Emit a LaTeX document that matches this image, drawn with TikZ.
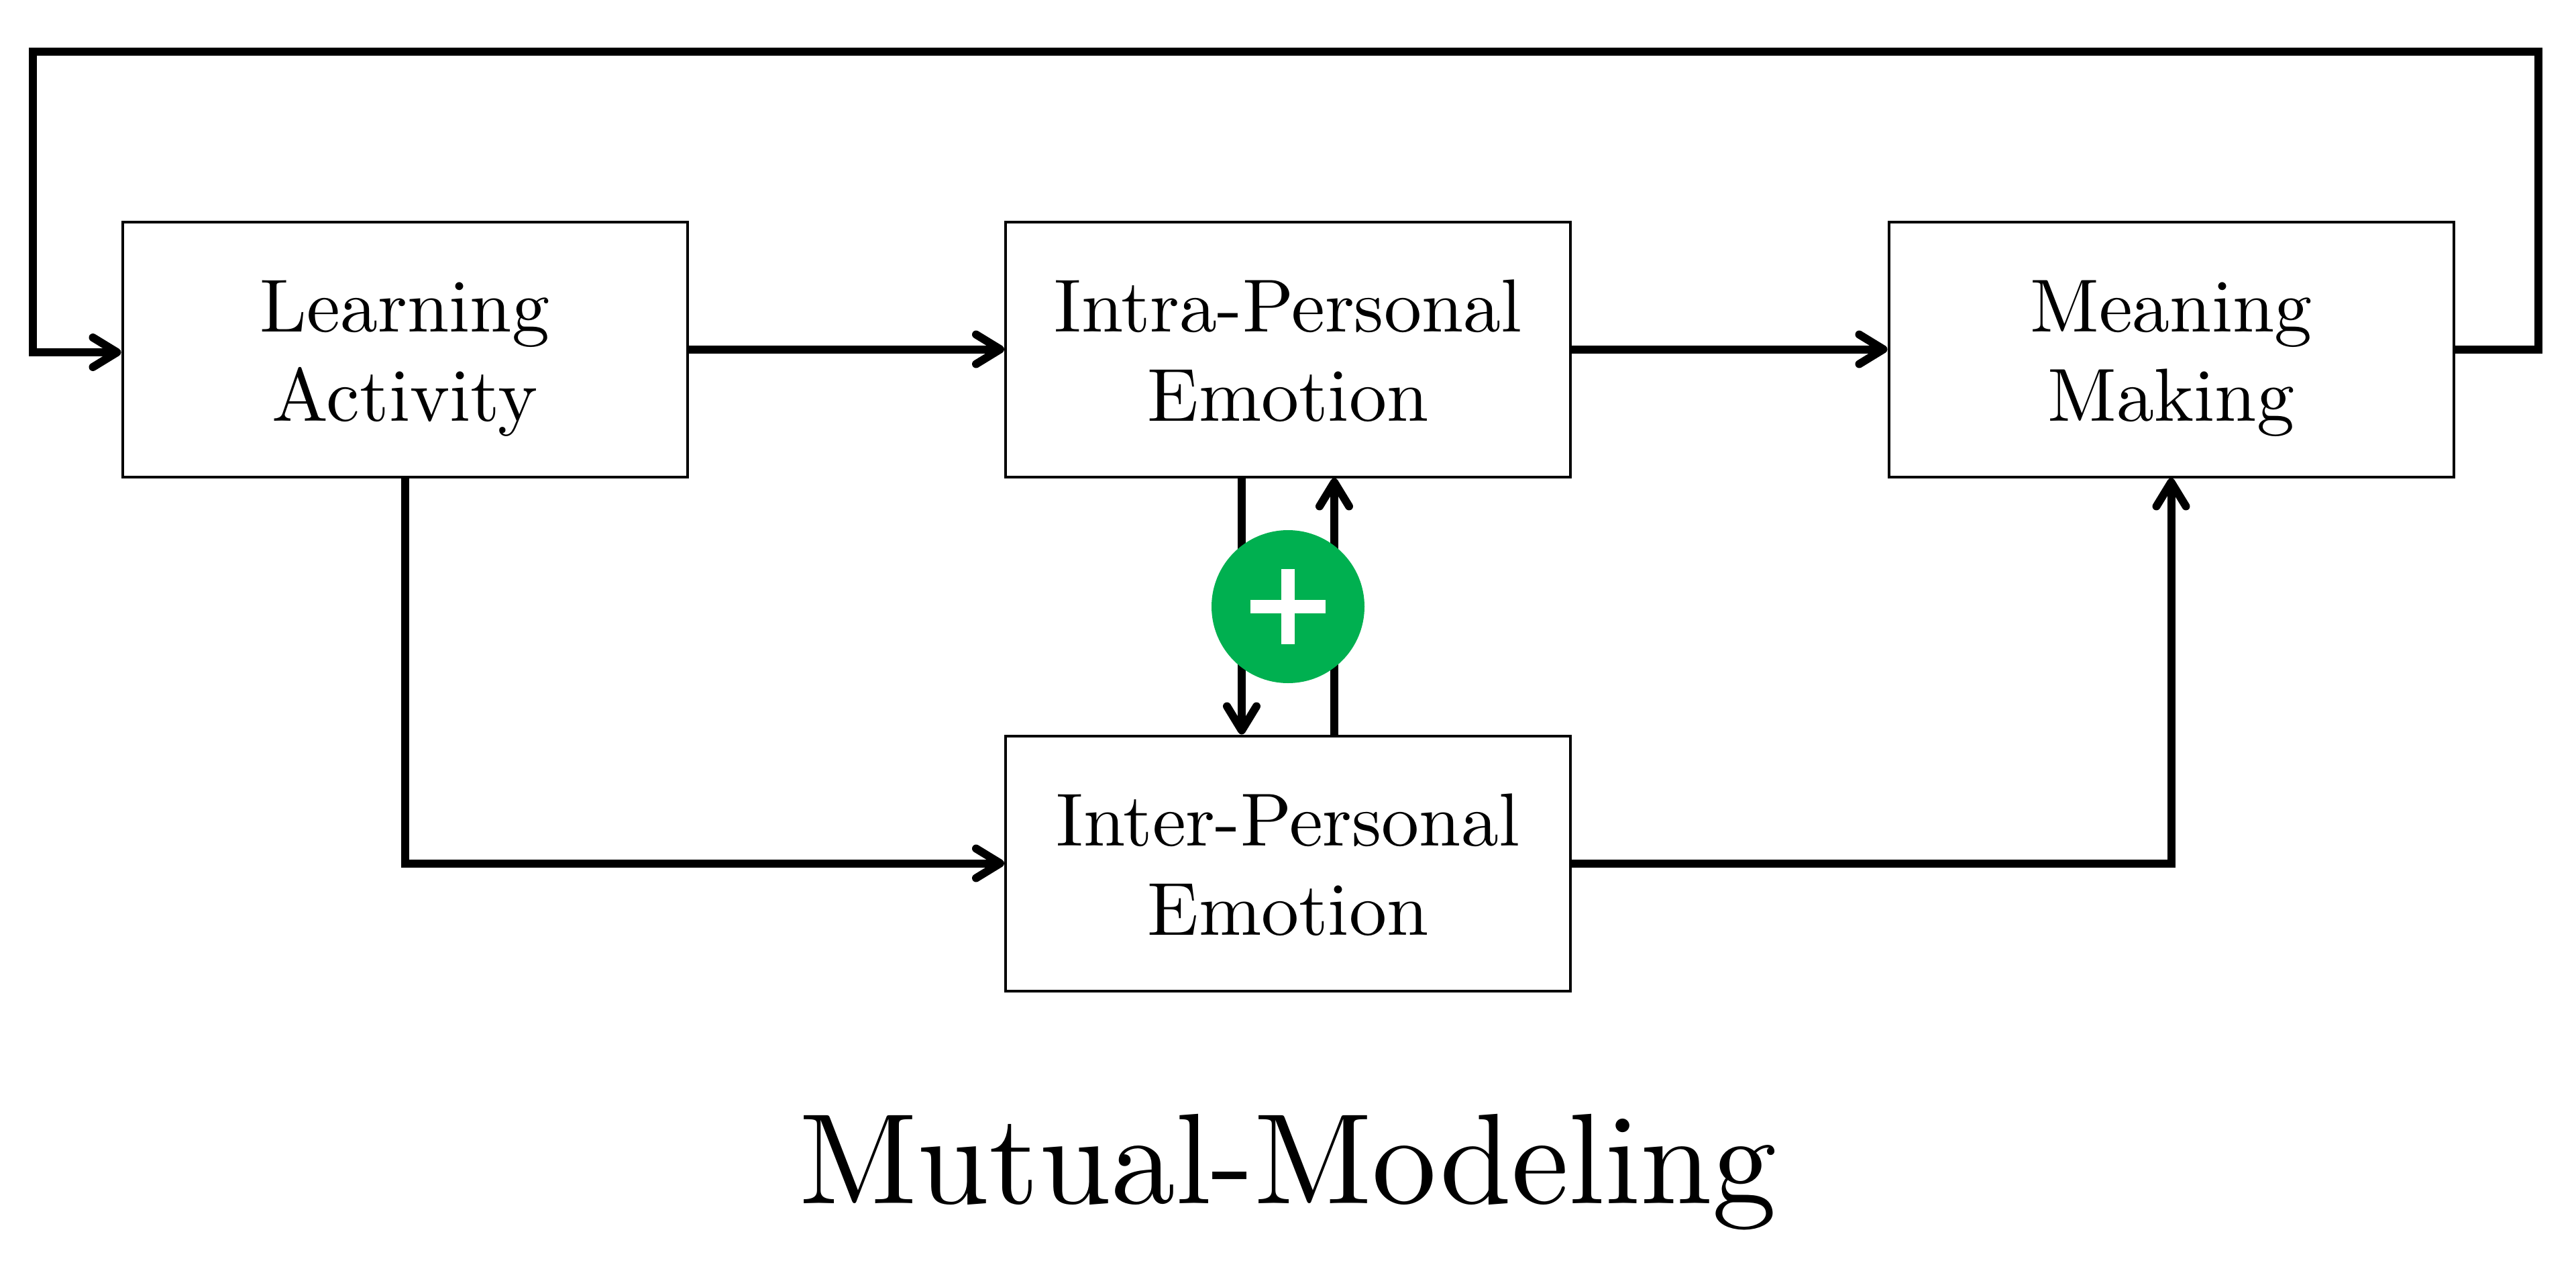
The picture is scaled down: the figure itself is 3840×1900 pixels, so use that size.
\documentclass[tikz,border=0pt]{standalone}
\usepackage{fontspec}
\setmainfont{lmroman10-regular.otf}
\usetikzlibrary{arrows.meta,calc}
\definecolor{plusgreen}{HTML}{00B050}
\newcommand{\topline}{\rule{0pt}{52pt}}
\newcommand{\botline}{\rule[-12pt]{0pt}{12pt}}
\tikzset{
  x=0.5pt,y=-0.5pt,
  block/.style={draw=black,fill=white,line width=2pt,minimum width=421pt,minimum height=190pt,inner sep=0pt,align=center,
    font=\fontsize{56}{66.5}\selectfont},
  link/.style={draw=black,line width=6pt,line join=miter,-{Straight Barb[length=18pt,width=22pt,round,line width=6pt]}},
}
\begin{document}
\begin{tikzpicture}
\useasboundingbox[fill=white] (0,0) rectangle (3840,1900);
\node[block] (la) at (603.5,520.5) {\topline Learning\\\botline Activity};
\node[block] (intra) at (1920,520.5) {\topline Intra-Personal\\\botline Emotion};
\node[block] (mm) at (3236.5,520.5) {\topline Meaning\\\botline Making};
\node[block] (inter) at (1920,1286.5) {\topline Inter-Personal\\\botline Emotion};
\node[inner sep=0pt,anchor=base,font=\fontsize{96}{115}\selectfont] (title) at (1920,1793) {Mutual-Modeling};
\coordinate (loopR) at (3784,77);
\coordinate (loopL) at (49,525);
\coordinate (laIn) at ($(la.west)+(0,4.5)$);
\coordinate (dnA) at ($(intra.south)+(-69,0)$);
\coordinate (dnB) at ($(inter.north)+(-69,0)$);
\coordinate (upA) at ($(inter.north)+(69,0)$);
\coordinate (upB) at ($(intra.south)+(69,0)$);
\draw[link] (mm.east) -| (loopR) -| (loopL) -- (laIn);
\draw[link] (la.east) -- (intra.west);
\draw[link] (intra.east) -- (mm.west);
\draw[link] (la.south) |- (inter.west);
\draw[link] (inter.east) -| (mm.south);
\draw[link] (dnA) -- (dnB);
\draw[link] (upA) -- (upB);
\node[circle,fill=plusgreen,minimum size=114pt,inner sep=0pt] (plus) at (1920,904) {};
\fill[white] ($(plus.center)+(-56,-10)$) rectangle ($(plus.center)+(56,10)$);
\fill[white] ($(plus.center)+(-10,-56)$) rectangle ($(plus.center)+(10,56)$);
\end{tikzpicture}
\end{document}
